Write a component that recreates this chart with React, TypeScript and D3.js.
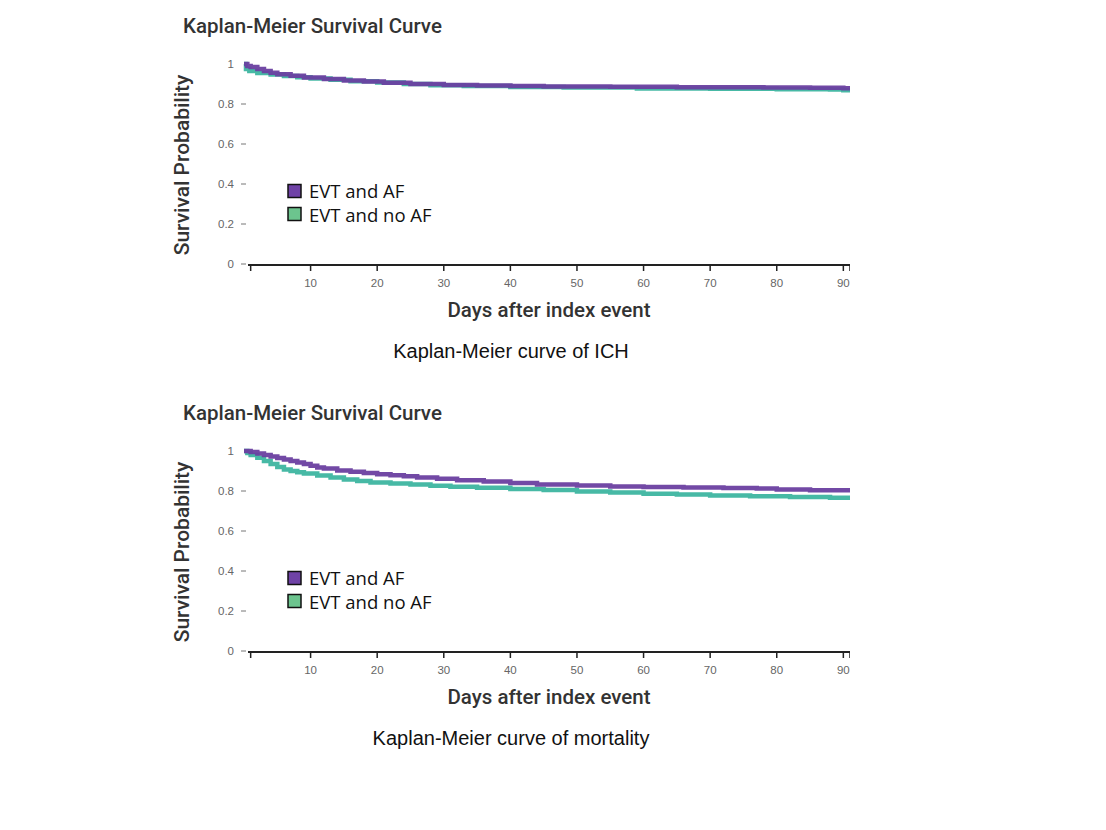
import React from "react";
import * as d3 from "d3";

// ---- data ----
const seriesNames = ["EVT and AF", "EVT and no AF"];
const seriesColors = ["#6a3fa0", "#3db5a0"];
const legendFills = ["#6f42a6", "#6cc48e"];

const ichAF: [number, number][] = [
  [0, 1], [0.5, 0.99], [1, 0.985], [2, 0.975], [3, 0.965], [4, 0.956], [5, 0.949],
  [7, 0.941], [9, 0.933], [12, 0.925], [15, 0.918], [18, 0.912], [21, 0.906],
  [25, 0.9], [30, 0.895], [35, 0.892], [40, 0.89], [45, 0.888], [55, 0.886],
  [65, 0.884], [78, 0.883], [85, 0.881], [90, 0.879], [91, 0.879],
];
const ichNoAF: [number, number][] = [
  [0, 1], [0.3, 0.975], [0.8, 0.965], [2, 0.955], [4, 0.948], [6, 0.94], [8, 0.934],
  [10, 0.928], [13, 0.921], [16, 0.914], [20, 0.907], [24, 0.9], [28, 0.894],
  [33, 0.89], [40, 0.885], [48, 0.882], [59, 0.878], [70, 0.876], [80, 0.874],
  [88, 0.872], [90, 0.869], [91, 0.869],
];
const mortAF: [number, number][] = [
  [0, 1], [1, 0.995], [2, 0.988], [3, 0.98], [4, 0.972], [5, 0.965], [6, 0.958],
  [7, 0.95], [8, 0.943], [9, 0.935], [10, 0.926], [11, 0.918], [12, 0.912],
  [14, 0.903], [16, 0.896], [18, 0.89], [20, 0.884], [22, 0.879], [24, 0.874],
  [26, 0.868], [29, 0.861], [32, 0.854], [36, 0.847], [40, 0.84], [44, 0.833],
  [50, 0.827], [55, 0.823], [60, 0.82], [66, 0.818], [72, 0.815], [77, 0.812],
  [80, 0.807], [85, 0.804], [91, 0.802],
];
const mortNoAF: [number, number][] = [
  [0, 1], [0.5, 0.99], [1, 0.98], [2, 0.966], [3, 0.95], [4, 0.935], [5, 0.92],
  [6, 0.908], [7, 0.9], [8, 0.894], [9, 0.888], [11, 0.878], [13, 0.868],
  [15, 0.858], [17, 0.85], [19, 0.843], [22, 0.837], [25, 0.832], [28, 0.826],
  [31, 0.821], [35, 0.816], [40, 0.81], [45, 0.805], [50, 0.798], [55, 0.792],
  [60, 0.786], [65, 0.782], [70, 0.778], [76, 0.774], [82, 0.77], [88, 0.766],
  [91, 0.765],
];

const xTickValues = [10, 20, 30, 40, 50, 60, 70, 80, 90];
const xMinorTicks = [1, 91];
const yTickValues = [0, 0.2, 0.4, 0.6, 0.8, 1];
const panelTitle = "Kaplan-Meier Survival Curve";
const yAxisTitle = "Survival Probability";
const xAxisTitle = "Days after index event";
const captions = ["Kaplan-Meier curve of ICH", "Kaplan-Meier curve of mortality"];
const panelSeries = [
  [ichAF, ichNoAF],
  [mortAF, mortNoAF],
];

const W = 1106;
const H = 830;

function Panel({ idx, top }: { idx: number; top: number }) {
  const x = d3.scaleLinear().domain([0, 91]).range([244, 850]);
  const y = d3.scaleLinear().domain([0, 1]).range([top + 200, top]);
  const line = d3
    .line<[number, number]>()
    .x((d) => x(d[0]))
    .y((d) => y(d[1]))
    .curve(d3.curveStepAfter);
  const clipId = `clip${idx}`;
  return (
    <g>
      <defs>
        <clipPath id={clipId}>
          <rect x={0} y={top - 30} width={850} height={400} />
        </clipPath>
      </defs>
      <text x={183} y={top - 31} fontFamily="Roboto" fontWeight={500} fontSize={20.5} fill="#333">
        {panelTitle}
      </text>
      <text
        transform={`translate(189,${top + 101}) rotate(-90)`}
        textAnchor="middle"
        fontFamily="Roboto"
        fontWeight={500}
        fontSize={21}
        fill="#333"
      >
        {yAxisTitle}
      </text>
      {yTickValues.map((v) => (
        <g key={v}>
          <text
            x={234}
            y={y(v) + 4}
            textAnchor="end"
            fontFamily="Liberation Sans"
            fontSize={11.5}
            fill="#666"
          >
            {String(v)}
          </text>
          {v < 1 && <line x1={241} x2={246} y1={y(v)} y2={y(v)} stroke="#777" strokeWidth={1} />}
        </g>
      ))}
      <g clipPath={`url(#${clipId})`}>
        <line x1={248} x2={850} y1={y(0) + 1} y2={y(0) + 1} stroke="#222" strokeWidth={2} />
        {xMinorTicks.map((t) => (
          <line key={t} x1={x(t)} x2={x(t)} y1={y(0) + 1} y2={y(0) + 7} stroke="#222" strokeWidth={1.5} />
        ))}
        {xTickValues.map((t) => (
          <g key={t}>
            <line x1={x(t)} x2={x(t)} y1={y(0) + 1} y2={y(0) + 7} stroke="#222" strokeWidth={1.5} />
            <text
              x={x(t)}
              y={y(0) + 23}
              textAnchor="middle"
              fontFamily="Liberation Sans"
              fontSize={11.5}
              fill="#666"
            >
              {t}
            </text>
          </g>
        ))}
        {panelSeries[idx]
          .map((s, i) => ({ s, i }))
          .reverse()
          .map(({ s, i }) => (
            <path
              key={i}
              d={line(s) || ""}
              fill="none"
              stroke={seriesColors[i]}
              strokeWidth={4.5}
              strokeOpacity={0.95}
            />
          ))}
      </g>
      <text
        x={549}
        y={y(0) + 53}
        textAnchor="middle"
        fontFamily="Roboto"
        fontWeight={500}
        fontSize={20.5}
        fill="#333"
      >
        {xAxisTitle}
      </text>
      {seriesNames.map((n, i) => (
        <g key={n}>
          <rect
            x={288}
            y={top + 120.5 + i * 23}
            width={13}
            height={13}
            fill={legendFills[i]}
            stroke="#111"
            strokeWidth={1.5}
          />
          <text x={309} y={top + 134 + i * 24} fontFamily="Open Sans" fontSize={18.5} fill="#111">
            {n}
          </text>
        </g>
      ))}
      <text
        x={511}
        y={y(0) + 94}
        textAnchor="middle"
        fontFamily="Liberation Sans"
        fontSize={20}
        fill="#111"
      >
        {captions[idx]}
      </text>
    </g>
  );
}

export default function App() {
  return (
    <svg
      width={W}
      height={H}
      style={{ position: "absolute", left: 0, top: 0, background: "#fff" }}
    >
      <Panel idx={0} top={64} />
      <Panel idx={1} top={451} />
    </svg>
  );
}
